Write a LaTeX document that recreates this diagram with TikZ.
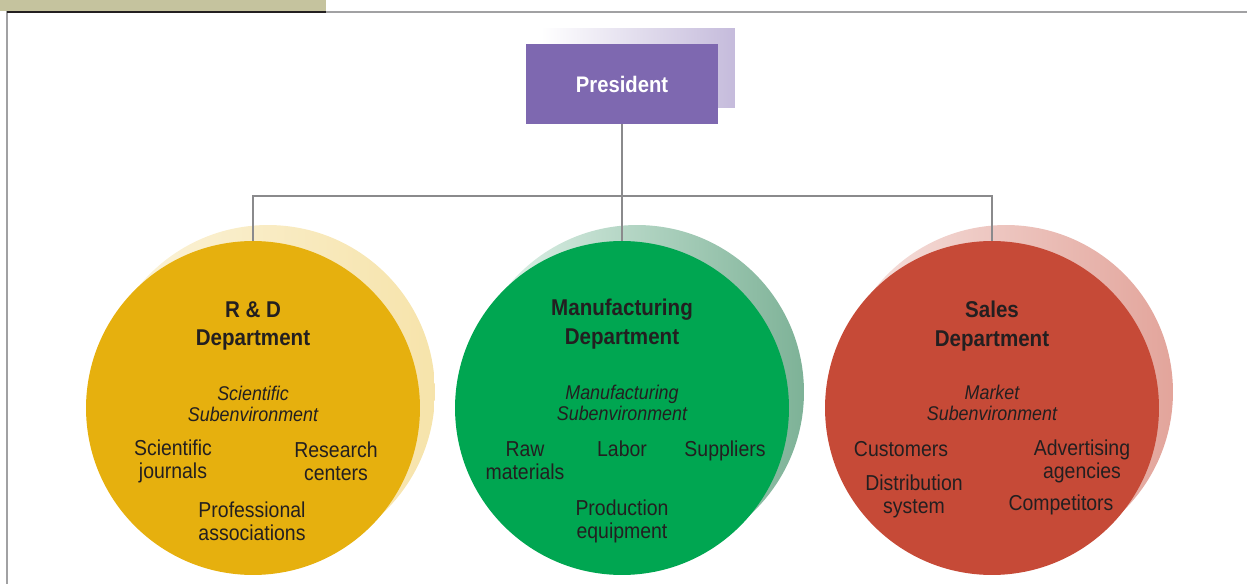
\documentclass[tikz,border=0pt]{standalone}
\usepackage{fontspec}
\setmainfont{Liberation Sans}[FakeStretch=0.9]
\usepackage{xcolor}
\definecolor{oroDep}{RGB}{230,176,14}
\definecolor{verdeDep}{RGB}{0,166,81}
\definecolor{rojoDep}{RGB}{198,74,55}
\definecolor{moradoPres}{RGB}{126,104,176}
\definecolor{tinta}{RGB}{35,31,32}
\definecolor{barraTan}{RGB}{197,195,158}
\definecolor{lineaGris}{RGB}{138,138,140}
\usepackage{tikz}
\usetikzlibrary{positioning, calc}

\begin{document}
\begin{tikzpicture}[
  x=0.02cm, y=-0.02cm,
  pres/.style={rectangle, fill=moradoPres, text=white, minimum width=3.86cm,
               minimum height=1.6cm, font=\fontsize{12.8}{15}\selectfont\bfseries},
  presshadow/.style={rectangle, minimum width=3.88cm, minimum height=1.6cm,
               left color=white, right color=moradoPres!45},
  dept/.style={circle, minimum size=6.68cm, inner sep=0pt},
  deptshadow/.style={circle, minimum size=6.68cm, inner sep=0pt},
  head/.style={align=center, text=tinta, font=\fontsize{13}{16.4}\selectfont\bfseries},
  sub/.style={align=center, text=tinta, font=\fontsize{11.3}{12}\selectfont\itshape},
  item/.style={align=center, text=tinta, font=\fontsize{12.3}{13}\selectfont},
  link/.style={draw=lineaGris, line width=1.5pt}
]
\useasboundingbox (0,0) rectangle (1247,584);

% Marco de la pagina
\fill[barraTan] (0,0) rectangle (326,11);
\draw[lineaGris!80, line width=0.9pt] (7,584) -- (7,12) -- (1247,12);
\draw[tinta, line width=0.8pt] (7,12) -- (326,12);

% Presidente
\node[presshadow] (presS) at (638,68) {};
\node[pres] (pres) at (622,84) {President};

% Sombras de los departamentos
\node[deptshadow, shade, shading angle=-60, left color=oroDep!15, right color=oroDep!35] (rdS) at (268,392) {};
\node[deptshadow, shade, shading angle=-60, left color=verdeDep!10!white, right color=verdeDep!45!gray!70] (mfgS) at (637,392) {};
\node[deptshadow, shade, shading angle=-60, left color=rojoDep!15, right color=rojoDep!50] (salesS) at (1006,392) {};

% Departamentos
\coordinate (hub) at (622,196);
\node[dept, fill=oroDep]   (rd)    at (253,408) {};
\node[dept, fill=verdeDep] (mfg)   at (622,408) {};
\node[dept, fill=rojoDep]  (sales) at (992,408) {};

% Lineas de mando
\draw[link] (pres.south) -- (mfg.north);
\draw[link] (rd.north) |- (hub) -| (sales.north);

% R & D
\node[head] (rdH) at (253,326) {R \& D\\Department};
\node[sub]  (rdSub) at (253,404) {Scientific\\Subenvironment};
\node[item] (rd1) at (173,461) {Scientific\\journals};
\node[item] (rd2) at (336,461) {Research\\centers};
\node[item] (rd3) at (252,521) {Professional\\associations};

% Manufactura
\node[head] (mfgH) at (622,324) {Manufacturing\\Department};
\node[sub]  (mfgSub) at (622,403) {Manufacturing\\Subenvironment};
\node[item] (mfg1) at (525,461) {Raw\\materials};
\node[item, anchor=base] (mfg2) at (622,456) {Labor};
\node[item, anchor=base] (mfg3) at (725,456) {Suppliers};
\node[item] (mfg4) at (622,521) {Production\\equipment};

% Ventas
\node[head] (salesH) at (992,326) {Sales\\Department};
\node[sub]  (salesSub) at (992,403) {Market\\Subenvironment};
\node[item, anchor=base] (sales1) at (901,456) {Customers};
\node[item] (sales2) at (914,496) {Distribution\\system};
\node[item] (sales3) at (1082,461) {Advertising\\agencies};
\node[item, anchor=base] (sales4) at (1061,510) {Competitors};

\end{tikzpicture}
\end{document}
